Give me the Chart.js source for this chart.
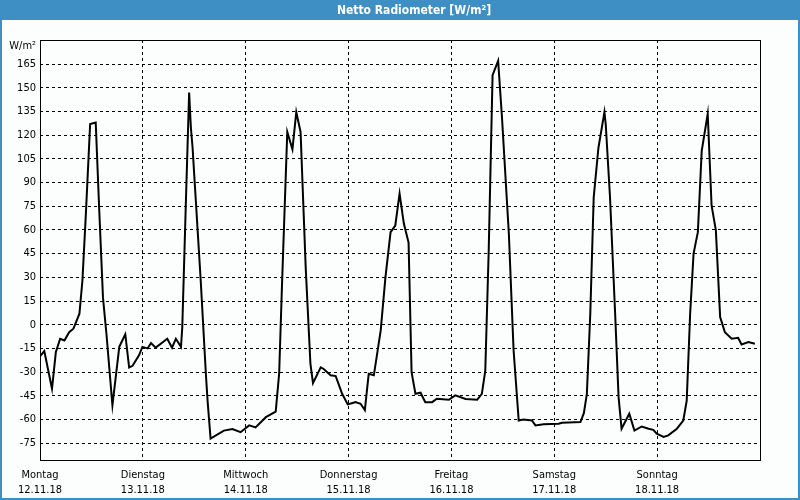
<!DOCTYPE html>
<html>
<head>
<meta charset="utf-8">
<script src="https://cdn.jsdelivr.net/npm/chart.js@4.4.1/dist/chart.umd.min.js"></script>
<style>
  html, body { margin: 0; padding: 0; background: #fcfefd; }
  canvas { display: block; }
</style>
</head>
<body>
<canvas id="c" width="800" height="500"></canvas>
<script>
const chartTitle = 'Netto Radiometer [W/m²]';
const unitLabel = 'W/m²';
const dayNames = ['Montag', 'Dienstag', 'Mittwoch', 'Donnerstag', 'Freitag', 'Samstag', 'Sonntag'];
const dayDates = ['12.11.18', '13.11.18', '14.11.18', '15.11.18', '16.11.18', '17.11.18', '18.11.18'];
const dayTicks = [0, 24, 48, 72, 96, 120, 144];
const yTicks = [-75, -60, -45, -30, -15, 0, 15, 30, 45, 60, 75, 90, 105, 120, 135, 150, 165];

// hours since Monday 00:00
const hours = [0,1.0,2.8,3.7,4.7,5.7,6.8,7.8,9.2,9.9,
  10.7,11.7,13.0,13.8,14.7,15.5,16.9,18.5,19.9,20.8,
  21.6,23.1,23.9,25.1,25.9,27.0,29.7,30.8,31.7,32.9,
  33.2,34.0,34.8,35.2,35.6,37.5,38.7,39.1,39.8,42.9,
  44.9,46.8,48.8,50.3,52.7,55.0,55.8,56.5,57.7,58.9,
  59.8,60.8,62.0,63.1,63.7,65.5,66.2,67.8,69.0,70.5,
  71.8,73.6,74.8,75.8,76.7,77.9,79.5,80.6,81.8,82.9,
  83.9,84.9,86.0,86.7,87.6,88.8,89.9,91.5,92.6,95.4,
  96.9,99.3,102.0,103.1,103.9,104.7,105.6,106.9,107.8,109.4,
  110.5,111.7,112.8,114.8,115.6,117.5,121.0,121.8,126.1,126.9,
  127.6,128.4,129.2,130.3,131.7,132.0,133.0,134.2,135.0,135.7,
  137.5,138.7,140.4,142.0,143.1,143.9,145.5,146.6,148.6,150.1,
  150.9,151.7,152.5,153.5,154.4,155.8,156.7,157.7,158.7,159.8,
  161.4,162.9,163.7,165.3,166.8];
const values = [-20,-16.7,-40.5,-17.3,-8.9,-10,-4.7,-2.5,7,28,
  70,127,128,74,17,-5.7,-51,-14,-6,-27,
  -26,-19.4,-14,-15,-11.6,-14.5,-8.9,-14.5,-8.9,-14,
  -1.5,74,147,125,112,28,-31,-48,-72,-67,
  -66,-68,-63.7,-65,-58.5,-55,-31,28,122,111,
  134.6,122,36,-24.7,-37,-27,-28,-32,-32.5,-43.7,
  -50.4,-49,-50,-54,-31,-32,-3.6,30,58.6,62.8,
  83,64,52,-30,-43.7,-43,-49,-49,-46.8,-47.5,
  -44.7,-47,-47.5,-43.7,-29,47,158,167,131,57.6,
  -16,-60.6,-60,-60.6,-63.7,-63,-62.7,-62,-61.6,-56,
  -43.7,7,80.8,112,134.6,127,80.8,7,-45.8,-65.8,
  -56.3,-67,-64.4,-65.8,-66.5,-69,-71,-70,-65.8,-60.6,
  -48,7,45,58.6,110,133.5,75.5,59.7,4.8,-4.7,
  -8.9,-8.3,-12.5,-11,-12];

const FONT = '"DejaVu Sans Condensed", "DejaVu Sans", Tahoma, sans-serif';
const BLUE = '#3d8fc4';

const framePlugin = {
  id: 'frame',
  beforeDraw(chart) {
    const ctx = chart.ctx;
    ctx.save();
    ctx.fillStyle = '#fcfefd';
    ctx.fillRect(0, 0, chart.width, chart.height);
    ctx.restore();
  },
  afterDraw(chart) {
    const ctx = chart.ctx;
    const a = chart.chartArea;
    ctx.save();
    // title bar
    ctx.fillStyle = BLUE;
    ctx.fillRect(0, 0, chart.width, 20);
    // outer border
    ctx.fillRect(0, 0, 2, chart.height);
    ctx.fillRect(chart.width - 2, 0, 2, chart.height);
    ctx.fillRect(0, chart.height - 2, chart.width, 2);
    ctx.fillStyle = '#ffffff';
    ctx.font = 'bold 12px ' + FONT;
    ctx.textAlign = 'center';
    ctx.textBaseline = 'middle';
    ctx.fillText(chartTitle, 414, 10.5);
    // unit label
    ctx.fillStyle = '#000000';
    ctx.font = '11px ' + FONT;
    ctx.textAlign = 'right';
    ctx.fillText(unitLabel, 36, 46);
    // plot border
    ctx.strokeStyle = '#000000';
    ctx.lineWidth = 1;
    ctx.setLineDash([]);
    ctx.strokeRect(Math.round(a.left) + 0.5, Math.round(a.top) + 0.5,
      Math.round(a.right - a.left), Math.round(a.bottom - a.top));
    ctx.restore();
  }
};

new Chart(document.getElementById('c'), {
  type: 'line',
  data: {
    datasets: [{
      data: hours.map((h, i) => ({ x: h, y: values[i] })),
      borderColor: '#000000',
      borderWidth: 2,
      pointRadius: 0,
      tension: 0,
      fill: false
    }]
  },
  options: {
    responsive: false,
    animation: false,
    events: [],
    layout: { padding: { left: 0, right: 40, top: 40, bottom: 0 } },
    plugins: { legend: { display: false }, tooltip: { enabled: false }, title: { display: false } },
    scales: {
      x: {
        type: 'linear',
        min: 0,
        max: 168,
        afterBuildTicks(scale) { scale.ticks = dayTicks.map(v => ({ value: v })); },
        afterFit(scale) { scale.height = 40; },
        grid: { color: '#000000', lineWidth: 1, drawTicks: false, drawOnChartArea: true },
        border: { display: false, dash: [3, 3] },
        ticks: {
          autoSkip: false,
          maxRotation: 0,
          minRotation: 0,
          padding: 7,
          color: '#000000',
          font: { family: FONT, size: 11, lineHeight: 1.4 },
          callback(value) {
            const i = dayTicks.indexOf(value);
            return i >= 0 ? [dayNames[i], dayDates[i]] : '';
          }
        }
      },
      y: {
        type: 'linear',
        min: -85.6,
        max: 180.2,
        afterBuildTicks(scale) { scale.ticks = yTicks.map(v => ({ value: v })); },
        afterFit(scale) { scale.width = 40; },
        grid: { color: '#000000', lineWidth: 1, drawTicks: false },
        border: { display: false, dash: [3, 3] },
        ticks: {
          padding: 4,
          color: '#000000',
          font: { family: FONT, size: 11 },
          callback(value) { return String(value); }
        }
      }
    }
  },
  plugins: [framePlugin]
});
</script>
</body>
</html>
